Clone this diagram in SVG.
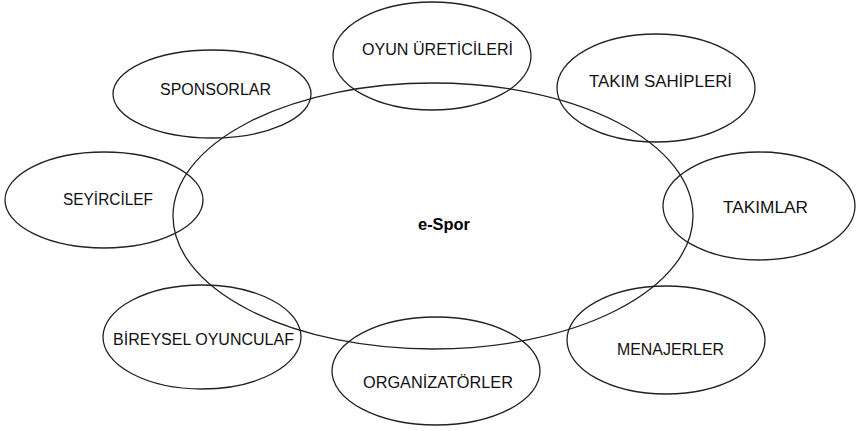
<svg xmlns="http://www.w3.org/2000/svg" width="856" height="431" viewBox="0 0 856 431">
<style>
.e{fill:none;stroke:#222;stroke-width:1.3}
.t{font-family:"Liberation Sans",Arial,sans-serif;font-size:16px;fill:#111}
.c{font-family:"Liberation Sans",Arial,sans-serif;font-size:16px;font-weight:bold;fill:#000}
</style>
<rect width="856" height="431" fill="#fff"/>
<g id="connectors"></g>
<g id="center"><ellipse class="e" cx="433" cy="216" rx="260" ry="133"/><text class="c" x="418" y="230" textLength="52" lengthAdjust="spacingAndGlyphs">e-Spor</text></g>
<g id="sponsorlar"><ellipse class="e" cx="212" cy="94" rx="99" ry="44"/><text class="t" x="160" y="95" textLength="111" lengthAdjust="spacingAndGlyphs">SPONSORLAR</text></g>
<g id="oyun-ureticileri"><ellipse class="e" cx="432" cy="56" rx="99" ry="54"/><text class="t" x="362" y="55" textLength="151" lengthAdjust="spacingAndGlyphs">OYUN ÜRETİCİLERİ</text></g>
<g id="takim-sahipleri"><ellipse class="e" cx="656" cy="88" rx="99" ry="54"/><text class="t" x="589" y="87" textLength="143" lengthAdjust="spacingAndGlyphs">TAKIM SAHİPLERİ</text></g>
<g id="seyirciler"><ellipse class="e" cx="104" cy="200" rx="99" ry="48"/><text class="t" x="63" y="205" textLength="90" lengthAdjust="spacingAndGlyphs">SEYİRCİLEF</text></g>
<g id="takimlar"><ellipse class="e" cx="759" cy="206" rx="96" ry="54"/><text class="t" x="723" y="213" textLength="85" lengthAdjust="spacingAndGlyphs">TAKIMLAR</text></g>
<g id="bireysel-oyuncular"><ellipse class="e" cx="202" cy="337" rx="99" ry="52"/><text class="t" x="113" y="345" textLength="181" lengthAdjust="spacingAndGlyphs">BİREYSEL OYUNCULAF</text></g>
<g id="organizatorler"><ellipse class="e" cx="436" cy="371" rx="104" ry="54"/><text class="t" x="363" y="388" textLength="150" lengthAdjust="spacingAndGlyphs">ORGANİZATÖRLER</text></g>
<g id="menajerler"><ellipse class="e" cx="666" cy="340" rx="99" ry="54"/><text class="t" x="617" y="355" textLength="107" lengthAdjust="spacingAndGlyphs">MENAJERLER</text></g>
</svg>
